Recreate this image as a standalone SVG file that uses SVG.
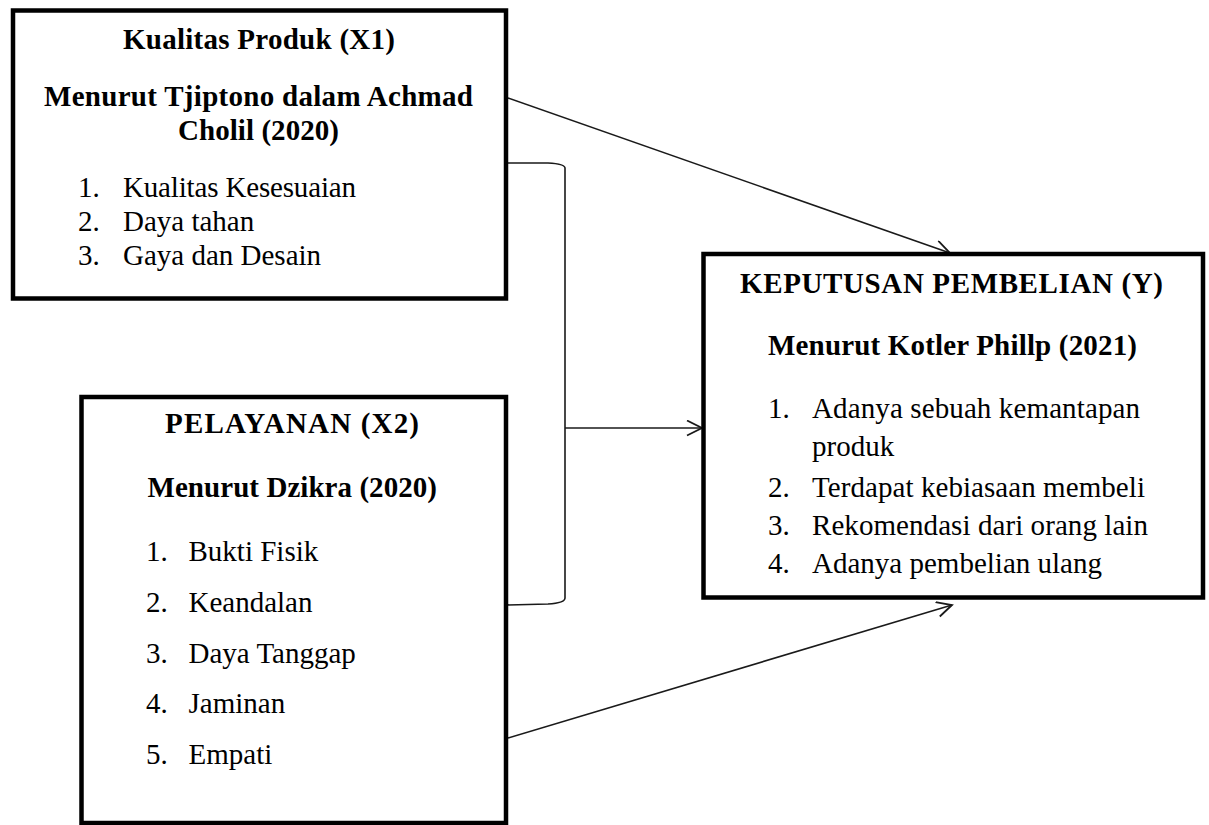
<svg xmlns="http://www.w3.org/2000/svg" width="1209" height="825" viewBox="0 0 1209 825">
<style>
.box{fill:#fff;stroke:#000;stroke-width:4.5}
.t{font-family:"Liberation Serif","Times New Roman",serif;font-size:29px;fill:#000}
.b{font-weight:bold}
.c{text-anchor:middle}
.ln{fill:none;stroke:#1a1a1a;stroke-width:1.6}
</style>
<defs>
<marker id="arr" markerUnits="userSpaceOnUse" markerWidth="18" markerHeight="18" viewBox="0 0 18 18" refX="16" refY="8" orient="auto">
<path d="M1,0.5 L16,8 L1,15.5" fill="none" stroke="#1a1a1a" stroke-width="1.8"/>
</marker>
</defs>
<rect width="1209" height="825" fill="#fff"/>
<g id="connectors">
<line class="ln" x1="508" y1="98" x2="950" y2="253" marker-end="url(#arr)"/>
<path class="ln" d="M506,163 L548,163 Q565,164 565,168 L565,598 Q565,603 548,604 L506,605"/>
<line class="ln" x1="565" y1="428" x2="702" y2="428" marker-end="url(#arr)"/>
<line class="ln" x1="508" y1="738" x2="952" y2="605" marker-end="url(#arr)"/>
</g>
<g id="x1">
<rect class="box" x="13" y="10.5" width="493" height="288"/>
<text class="t b" x="123" y="49" textLength="272">Kualitas Produk (X1)</text>
<text class="t b" x="44" y="106" textLength="429">Menurut Tjiptono dalam Achmad</text>
<text class="t b" x="178" y="140" textLength="161">Cholil (2020)</text>
<text class="t" x="78" y="197">1.</text>
<text class="t" x="123" y="197" textLength="233">Kualitas Kesesuaian</text>
<text class="t" x="78" y="231">2.</text>
<text class="t" x="123" y="231">Daya tahan</text>
<text class="t" x="78" y="265">3.</text>
<text class="t" x="123" y="265">Gaya dan Desain</text>
</g>
<g id="x2">
<rect class="box" x="81.5" y="397" width="424.5" height="426"/>
<text class="t b" x="165" y="433" textLength="254">PELAYANAN (X2)</text>
<text class="t b" x="147.5" y="497" textLength="289.5">Menurut Dzikra (2020)</text>
<text class="t" x="146" y="561">1.</text>
<text class="t" x="188.5" y="561">Bukti Fisik</text>
<text class="t" x="146" y="612">2.</text>
<text class="t" x="188.5" y="612">Keandalan</text>
<text class="t" x="146" y="663">3.</text>
<text class="t" x="188.5" y="663">Daya Tanggap</text>
<text class="t" x="146" y="713">4.</text>
<text class="t" x="188.5" y="713">Jaminan</text>
<text class="t" x="146" y="764">5.</text>
<text class="t" x="188.5" y="764">Empati</text>
</g>
<g id="y">
<rect class="box" x="703.5" y="254" width="499.5" height="343.5"/>
<text class="t b" x="740" y="293" textLength="423">KEPUTUSAN PEMBELIAN (Y)</text>
<text class="t b" x="768" y="355" textLength="369">Menurut Kotler Phillp (2021)</text>
<text class="t" x="768" y="418">1.</text>
<text class="t" x="812" y="418" textLength="328">Adanya sebuah kemantapan</text>
<text class="t" x="812" y="456">produk</text>
<text class="t" x="768" y="497">2.</text>
<text class="t" x="812" y="497" textLength="333">Terdapat kebiasaan membeli</text>
<text class="t" x="768" y="535">3.</text>
<text class="t" x="812" y="535" textLength="336">Rekomendasi dari orang lain</text>
<text class="t" x="768" y="573">4.</text>
<text class="t" x="812" y="573" textLength="290">Adanya pembelian ulang</text>
</g>
</svg>
